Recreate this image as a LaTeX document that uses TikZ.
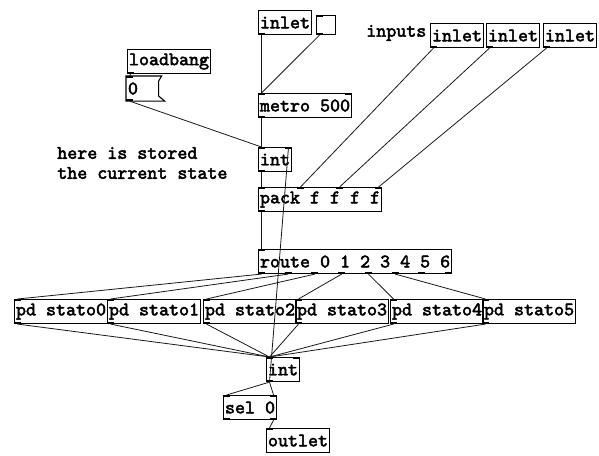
\documentclass[tikz,border=0pt]{standalone}
\usepackage{tikz}
\usepackage{xcolor}
\usepackage{fontspec}
\usetikzlibrary{positioning, calc}
\definecolor{ink}{HTML}{000000}
\definecolor{wirec}{HTML}{1A1A1A}
\newfontfamily\pdfam[AutoFakeBold=2.5]{lmmono10-regular.otf}
\newcommand{\pdfont}{\fontsize{14.3pt}{15pt}\selectfont\pdfam\bfseries}

% inlet/outlet marks and their coordinates: node, #inlets, #outlets
\newcommand{\pdports}[3]{%
  \ifnum#2>0
  \foreach \k in {1,...,#2}{%
    \ifnum#2=1 \def\t{0}\else\pgfmathsetmacro\t{(\k-1)/(#2-1)}\fi
    \coordinate (#1-i\k) at ($(#1.north west)!\t!(#1.north east)+({3.5-7*\t},0)$);
    \draw[port] ($(#1-i\k)+(-3.5,1)$) -- ++(7,0);
  }\fi
  \ifnum#3>0
  \foreach \k in {1,...,#3}{%
    \ifnum#3=1 \def\t{0}\else\pgfmathsetmacro\t{(\k-1)/(#3-1)}\fi
    \coordinate (#1-o\k) at ($(#1.south west)!\t!(#1.south east)+({3.5-7*\t},0)$);
    \draw[port] ($(#1-o\k)+(-3.5,-1)$) -- ++(7,0);
  }\fi
}

\begin{document}
\begin{tikzpicture}[
    x=0.75pt, y=-0.75pt,
    obj/.style={draw=ink, line width=0.8pt, anchor=north west, inner xsep=1.1pt,
                inner ysep=0pt, minimum height=18pt, font=\pdfont, text=ink},
    txt/.style={anchor=west, inner sep=0pt, font=\pdfont, text=ink, align=left},
    port/.style={ink, line width=1.8pt},
    wire/.style={wirec, line width=0.6pt}
  ]
  \useasboundingbox[fill=white] (0,0) rectangle (599,455);

  % top part
  \node[obj] (inl) at (258,10) {inlet};
  \node[draw=ink, line width=0.8pt, anchor=north west, minimum size=14.25pt, inner sep=0pt] (bng) at (316,15) {};
  \node[obj] (lb) at (127,49) {loadbang};
  \node[obj, draw=none] (num) at (126,76) {\makebox[26pt][l]{0}};
  \draw[ink, line width=0.8pt] (num.north west) -- ($(num.north east)+(-3,0)$)
    -- ($(num.north east)+(-6,5)$) -- ($(num.south east)+(-6,-5)$)
    -- (num.south east) -- (num.south west) -- cycle;
  \node[obj] (metro) at (258,93) {metro 500};
  \node[obj] (intA) at (258,147) {int};
  \node[obj] (pack) at (258,187) {pack f f f f};

  \node[txt] (note) at (57,163) {here is stored\\the current state};
  \node[txt] (lblin) at (366,33) {inputs};
  \node[obj] (in1) at (430,23) {inlet};
  \node[obj] (in2) at (486,23) {inlet};
  \node[obj] (in3) at (543,23) {inlet};

  % router and states
  \node[obj] (route) at (258,249) {route 0 1 2 3 4 5 6};
  \foreach \i/\x in {0/14, 1/107, 2/203, 3/295, 4/390, 5/482}
    \node[obj] (s\i) at (\x,299) {pd stato\i};

  % bottom part
  \node[obj] (intB) at (266,357) {int};
  \node[obj] (sel) at (223,395) {sel 0};
  \node[obj] (out) at (266,428) {outlet};

  \pdports{inl}{0}{1}
  \pdports{bng}{1}{1}
  \pdports{lb}{0}{1}
  \pdports{num}{1}{1}
  \pdports{metro}{2}{1}
  \pdports{intA}{2}{1}
  \pdports{pack}{4}{1}
  \pdports{in1}{0}{1}
  \pdports{in2}{0}{1}
  \pdports{in3}{0}{1}
  \pdports{route}{1}{8}
  \foreach \i in {0,...,5}{\pdports{s\i}{1}{1}}
  \pdports{intB}{2}{1}
  \pdports{sel}{2}{2}
  \pdports{out}{1}{0}

  % connections
  \draw[wire] (inl-o1) -- (metro-i1);
  \draw[wire] (bng-o1) -- (metro-i1);
  \draw[wire] (lb-o1) -- (num-i1);
  \draw[wire] (num-o1) -- (intA-i1);
  \draw[wire] (metro-o1) -- (intA-i1);
  \draw[wire] (intA-o1) -- (pack-i1);
  \draw[wire] (in1-o1) -- (pack-i2);
  \draw[wire] (in2-o1) -- (pack-i3);
  \draw[wire] (in3-o1) -- (pack-i4);
  \draw[wire] (pack-o1) -- (route-i1);
  \foreach \i [evaluate=\i as \j using int(\i+1)] in {0,...,5}{
    \draw[wire] (route-o\j) -- (s\i-i1);
    \draw[wire] (s\i-o1) -- (intB-i1);
  }
  \draw[wire] (intB-o1) -- (intA-i2);
  \draw[wire] (intB-o1) -- (sel-i1);
  \draw[wire] (intB-o1) -- (sel-i2);
  \draw[wire] (sel-o2) -- (out-i1);
\end{tikzpicture}
\end{document}
